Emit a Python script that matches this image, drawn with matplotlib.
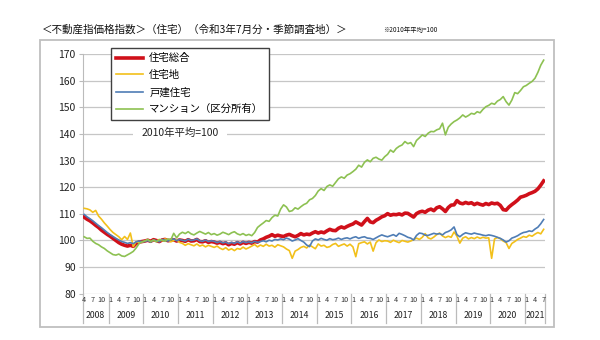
import matplotlib
matplotlib.use('Agg')
import matplotlib.pyplot as plt
import matplotlib.transforms as mtransforms
from matplotlib.lines import Line2D
from matplotlib.patches import Rectangle

plt.rcParams['font.family'] = ['Noto Sans CJK JP', 'DejaVu Sans']

# monthly index, Apr 2008 - Jul 2021 (2010 average = 100)
total = (  # 住宅総合
    [108.8, 108.0, 107.4, 106.6, 105.7, 104.9, 103.9, 103.1, 102.3]  # 2008 Apr-Dec
    + [101.6, 100.8, 100.0, 99.2, 98.6, 98.2, 97.9, 98.2, 97.8, 98.9, 99.4, 99.6]
    + [99.8, 100.1, 99.7, 100.3, 100.0, 99.6, 100.2, 100.4, 99.9, 100.1, 100.3, 99.8]
    + [100.2, 100.0, 99.7, 100.3, 99.8, 99.9, 100.4, 99.6, 99.5, 99.9, 99.3, 99.6]
    + [99.4, 99.0, 99.3, 98.8, 99.1, 98.4, 98.9, 98.6, 99.2, 98.7, 99.3, 98.9]
    + [99.3, 99.0, 99.6, 99.4, 100.2, 100.6, 101.2, 101.6, 102.2, 101.6, 102.0, 101.7]
    + [101.5, 102.0, 102.3, 101.8, 101.4, 101.9, 102.6, 102.1, 102.4, 102.2, 102.8, 103.3]
    + [102.8, 103.2, 102.9, 103.6, 104.2, 103.8, 103.7, 104.6, 105.1, 104.7, 105.3, 105.8]
    + [106.2, 107.0, 106.4, 105.8, 107.1, 108.3, 107.0, 106.7, 107.6, 108.2, 108.9, 109.3]
    + [110.1, 109.5, 109.8, 109.7, 110.0, 109.6, 110.3, 110.2, 109.5, 108.8, 110.1, 110.7]
    + [111.0, 110.6, 111.4, 111.8, 111.2, 112.3, 112.7, 111.9, 110.9, 112.4, 113.3, 113.4]
    + [115.0, 114.1, 113.8, 114.3, 113.9, 114.2, 113.5, 114.0, 113.6, 113.3, 113.9, 113.5]
    + [114.1, 113.8, 114.0, 113.2, 111.6, 111.4, 112.6, 113.5, 114.3, 115.2, 116.3, 116.6]
    + [117.0, 117.6, 118.0, 118.5, 119.4, 120.8, 122.4]  # 2021 Jan-Jul
)
land = (  # 住宅地
    [112.1, 111.9, 111.5, 110.6, 111.3, 109.2, 108.0, 106.6, 105.4]
    + [104.1, 103.0, 102.2, 101.4, 100.3, 101.5, 100.4, 102.8, 97.7, 99.6, 99.2, 99.4]
    + [99.8, 100.3, 99.5, 100.1, 99.7, 100.4, 99.9, 100.6, 100.2, 99.5, 100.0, 100.3]
    + [99.3, 98.9, 98.2, 98.8, 98.4, 98.0, 98.7, 97.9, 98.3, 97.6, 98.2, 97.8]
    + [97.4, 97.9, 97.1, 96.6, 97.3, 96.4, 96.9, 96.2, 97.0, 96.7, 97.5, 96.8]
    + [97.3, 97.9, 98.5, 97.6, 98.3, 97.8, 98.6, 97.9, 98.2, 97.5, 98.4, 98.0]
    + [97.6, 96.8, 96.2, 93.3, 96.0, 96.6, 97.4, 97.8, 97.2, 98.3, 97.6, 96.9]
    + [98.7, 97.9, 98.2, 97.4, 97.7, 98.5, 98.9, 97.8, 98.3, 98.7, 97.9, 98.6]
    + [97.6, 93.9, 98.8, 99.2, 99.5, 98.7, 99.4, 96.0, 99.2, 100.2, 99.6, 99.9]
    + [99.8, 99.3, 100.1, 99.6, 99.2, 100.0, 99.7, 99.4, 99.8, 100.3, 100.9, 100.4]
    + [101.2, 102.6, 101.0, 100.6, 101.3, 102.2, 102.8, 101.7, 101.1, 101.6, 101.2, 103.2]
    + [101.6, 99.0, 100.9, 101.4, 100.6, 101.1, 100.7, 101.3, 100.8, 101.2, 100.9, 101.0]
    + [93.3, 100.6, 101.1, 100.7, 99.8, 99.2, 97.0, 98.9, 99.6, 100.4, 100.9, 101.5]
    + [101.2, 102.0, 101.6, 102.4, 103.0, 102.5, 104.2]
)
house = (  # 戸建住宅
    [109.8, 108.9, 108.2, 107.4, 106.5, 105.6, 104.8, 103.9, 103.0]
    + [102.2, 101.5, 100.8, 100.2, 99.6, 99.3, 98.9, 99.2, 98.8, 99.5, 99.8, 99.6]
    + [99.6, 100.0, 99.4, 100.2, 99.9, 99.5, 100.4, 100.1, 99.8, 100.3, 100.6, 99.9]
    + [100.4, 100.1, 99.8, 100.5, 100.0, 100.2, 100.6, 99.9, 99.7, 100.2, 99.6, 99.9]
    + [99.7, 99.2, 99.6, 99.1, 99.4, 98.8, 99.3, 98.9, 99.5, 99.0, 99.6, 99.2]
    + [99.5, 99.1, 99.7, 99.3, 99.6, 99.9, 99.5, 100.1, 99.8, 100.4, 100.2, 100.6]
    + [100.3, 100.9, 100.5, 99.8, 100.2, 100.7, 100.0, 99.4, 98.3, 97.7, 99.8, 100.6]
    + [100.2, 100.8, 100.4, 100.1, 100.7, 100.3, 100.5, 100.9, 100.4, 100.8, 101.0, 100.6]
    + [101.1, 101.4, 100.8, 101.2, 101.4, 100.9, 100.8, 100.4, 101.0, 101.6, 102.1, 101.7]
    + [101.4, 101.8, 102.2, 101.6, 102.7, 102.3, 101.8, 101.2, 100.9, 100.2, 101.9, 102.8]
    + [102.6, 102.0, 101.9, 102.3, 102.7, 102.4, 102.6, 102.1, 103.0, 103.4, 104.0, 105.1]
    + [102.2, 101.4, 102.3, 102.9, 102.6, 102.4, 102.8, 102.5, 102.3, 102.0, 101.8, 102.1]
    + [101.9, 101.6, 101.2, 100.8, 100.2, 99.4, 99.9, 100.9, 101.3, 101.8, 102.5, 103.0]
    + [103.2, 103.6, 103.4, 104.3, 105.0, 106.3, 107.9]
)
mansion = (  # マンション（区分所有）
    [101.4, 100.8, 100.9, 99.7, 98.9, 98.4, 97.6, 97.0, 96.1]
    + [95.4, 94.7, 94.5, 94.9, 94.2, 94.0, 94.6, 95.2, 95.9, 97.2, 98.8, 99.5]
    + [99.8, 100.4, 99.6, 100.2, 99.5, 100.3, 100.1, 99.7, 100.6, 100.2, 102.7, 101.0]
    + [102.4, 103.1, 102.6, 103.3, 102.5, 102.1, 102.8, 103.4, 102.9, 102.4, 103.0, 102.2]
    + [102.6, 102.0, 102.4, 103.1, 102.7, 102.2, 102.9, 103.3, 102.5, 102.1, 102.6, 101.9]
    + [102.3, 101.8, 103.0, 104.9, 105.8, 106.6, 107.5, 107.2, 108.6, 109.5, 109.2, 111.8]
    + [113.4, 112.6, 110.9, 111.2, 112.3, 111.8, 112.7, 113.5, 114.0, 115.3, 115.8, 116.9]
    + [118.6, 119.5, 118.8, 120.3, 120.9, 120.4, 121.8, 123.2, 123.9, 123.4, 124.6, 125.1]
    + [125.9, 126.8, 128.3, 127.6, 129.4, 130.3, 129.6, 130.9, 131.3, 130.6, 130.2, 131.5]
    + [132.4, 134.0, 133.2, 134.6, 135.4, 135.9, 137.2, 136.4, 136.8, 135.3, 137.6, 138.6]
    + [139.7, 139.1, 140.3, 141.0, 140.9, 141.6, 142.0, 144.1, 139.7, 142.6, 143.8, 144.7]
    + [145.3, 146.1, 147.2, 146.4, 147.0, 147.8, 147.5, 148.4, 148.0, 149.3, 150.3, 150.8]
    + [151.6, 151.2, 152.4, 153.0, 154.1, 152.2, 150.9, 152.8, 155.6, 155.2, 156.4, 157.8]
    + [158.3, 159.1, 159.8, 161.0, 163.2, 165.9, 167.8]
)
series_names = ['住宅総合', '住宅地', '戸建住宅', 'マンション（区分所有）']
years = list(range(2008, 2022))
first_month = 4  # series starts in April 2008

title = '＜不動産指価格指数＞（住宅）（令和3年7月分・季節調査地）＞'
note = '※2010年平均=100'
base_label = '2010年平均=100'

n = len(total)
x = list(range(n))
months = [(first_month - 1 + i) % 12 + 1 for i in x]

fig = plt.figure(figsize=(6, 3.4), dpi=100)
ax = fig.add_axes([0.1378, 0.1362, 0.7707, 0.7041])

ax.plot(x, total, color='#D0101A', lw=2.6, label=series_names[0], zorder=3)
ax.plot(x, land, color='#F2C01A', lw=1.2, label=series_names[1], zorder=3)
ax.plot(x, house, color='#4F7DB5', lw=1.2, label=series_names[2], zorder=3)
ax.plot(x, mansion, color='#8DC152', lw=1.2, label=series_names[3], zorder=3)

ax.set_xlim(-0.5, n - 0.5)
ax.set_ylim(80, 170)
ax.set_yticks(range(80, 171, 10))
ax.set_xticks([])
ax.grid(axis='y', color='#C6C6C6', lw=0.9)
ax.set_axisbelow(True)
for s in ['top', 'right', 'bottom']:
    ax.spines[s].set_visible(False)
ax.spines['left'].set_color('#BBBBBB')
ax.tick_params(axis='y', length=3, color='#BBBBBB', labelsize=7.5,
               pad=2, labelcolor='#222222')

# two-level category axis: month numbers and years with separators
trans = mtransforms.blended_transform_factory(ax.transData, ax.transAxes)
for i, m in zip(x, months):
    if m in (1, 4, 7, 10):
        ax.text(i, -0.027, str(m), transform=trans, ha='center', va='center',
                fontsize=5.2, color='#333333')
starts = [i for i, m in zip(x, months) if m == 1]
edges = [-0.5] + [s - 0.5 for s in starts] + [n - 0.5]
for e in edges:
    ax.add_line(Line2D([e, e], [0, -0.123], transform=trans, color='#BBBBBB',
                       lw=0.9, clip_on=False))
for y, a, b in zip(years, edges[:-1], edges[1:]):
    ax.text((a + b) / 2, -0.093, str(y), transform=trans, ha='center',
            va='center', fontsize=6.3, color='#222222')

leg = ax.legend(loc='upper left', bbox_to_anchor=(110.7 / 600, 1 - 48 / 340),
                bbox_transform=fig.transFigure, fancybox=False, framealpha=1,
                edgecolor='#404040', fontsize=7.5, handlelength=2.6,
                handletextpad=0.6, labelspacing=0.66, borderpad=0.5,
                borderaxespad=0)
leg.get_frame().set_linewidth(1.0)

ax.text(33.2, 140.3, base_label, ha='center', va='center', fontsize=7.5,
        color='#222222', zorder=2,
        bbox=dict(boxstyle='square,pad=0.8', fc='white', ec='none'))

fig.text(42 / 600, 1 - 30 / 340, title, fontsize=7.6, va='center', ha='left',
         color='#111111')
fig.text(383 / 600, 1 - 30 / 340, note, fontsize=4.6, va='center', ha='left',
         color='#111111')

fig.patches.append(Rectangle((40 / 600, 1 - 327 / 340), 514 / 600, 287 / 340,
                             transform=fig.transFigure, fill=False,
                             ec='#BFBFBF', lw=1.3))

fig.savefig('out.png', dpi=100)
